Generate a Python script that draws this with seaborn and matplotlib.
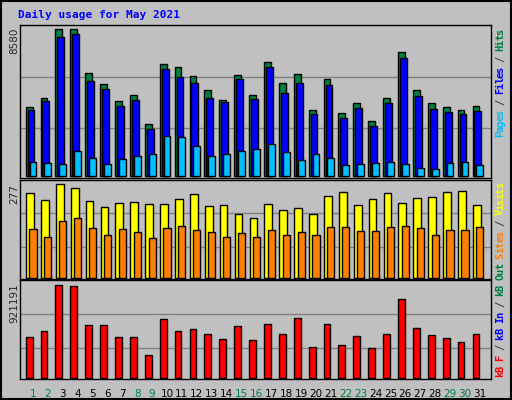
# %% load libraries
import numpy as np
import pandas as pd
import matplotlib
matplotlib.use("Agg")
import matplotlib.pyplot as plt
import seaborn as sns

# %% data
days = list(range(1, 32))
hits = [4060, 4580, 8580, 8580, 6030, 5390, 4410, 4760, 3070, 6550, 6380, 5860, 5050,
        4470, 5920, 4760, 6670, 5450, 5970, 3890, 5680, 3710, 4290, 3250, 4580, 7250,
        5050, 4290, 4060, 3890, 4120]
files = [3890, 4410, 8120, 8290, 5570, 5100, 4120, 4470, 2780, 6260, 5800, 5450, 4580,
         4350, 5680, 4520, 6380, 4870, 5450, 3650, 5340, 3420, 4000, 2960, 4290, 6900,
         4700, 3940, 3770, 3650, 3830]
pages = [870, 810, 700, 1510, 1100, 750, 990, 1220, 1280, 2380, 2320, 1800, 1220,
         1280, 1510, 1570, 1910, 1450, 930, 1280, 1100, 640, 700, 810, 870, 700,
         520, 460, 810, 870, 640]
visits = [250, 229, 277, 265, 226, 208, 220, 223, 217, 217, 232, 247, 211, 214, 187, 175,
          217, 199, 205, 187, 241, 253, 214, 232, 250, 220, 235, 238, 253, 256, 214]
sites = [145, 121, 169, 175, 148, 127, 145, 136, 118, 148, 154, 142, 136, 121, 133, 121,
         142, 127, 136, 127, 151, 151, 139, 139, 151, 154, 148, 127, 142, 142, 151]
kbytes = [406800, 467300, 921191, 911100, 527800, 527800, 406800, 406800, 225300, 578300,
          467300, 487500, 437100, 386600, 517800, 376500, 537900, 437100, 588400, 305900,
          537900, 326100, 416900, 295900, 437100, 780000, 497600, 427000, 396700, 356400,
          437100]
weekend = [1, 2, 8, 9, 15, 16, 22, 23, 29, 30]

BG = "#C0C0C0"
df = pd.DataFrame({"day": days, "hits": hits, "files": files, "pages": pages,
                   "visits": visits, "sites": sites, "kb": kbytes})

sns.set_theme(style="white")
plt.rcParams["font.family"] = ["DejaVu Sans Mono", "DejaVu Sans"]

fig = plt.figure(figsize=(5.12, 4.0), dpi=100, facecolor=BG)
W, H = 512, 400


def px_axes(left, top, right, bottom):
    return fig.add_axes([left / W, 1 - bottom / H, (right - left) / W, (bottom - top) / H])


def bars(ax, col, offset, color, width=0.46):
    d = pd.DataFrame({"x": df["day"] + offset, "y": df[col]})
    sns.barplot(data=d, x="x", y="y", native_scale=True, width=width, color=color,
                edgecolor="black", linewidth=1, saturation=1, ax=ax)


def style(ax, ymax, grids):
    ax.set_facecolor(BG)
    ax.set_xlim(0.13, 31.75)
    ax.set_ylim(-ymax * 0.01, ymax)
    for g in grids:
        ax.axhline(g, color="#808080", lw=1, zorder=0)
    ax.set_xticks([])
    ax.set_yticks([])
    ax.set_xlabel("")
    ax.set_ylabel("")
    for s in ax.spines.values():
        s.set_color("black")
        s.set_linewidth(1)


# top panel: hits / files / pages
ax1 = px_axes(20, 25, 491, 178)
bars(ax1, "hits", -0.26, "#008040")
bars(ax1, "files", -0.13, "#0000FF")
bars(ax1, "pages", 0.0, "#00C0FF")
style(ax1, 8812, [2842, 5800])

# middle panel: visits / sites
ax2 = px_axes(20, 180, 491, 279)
bars(ax2, "visits", -0.2, "#FFFF00", width=0.52)
bars(ax2, "sites", 0.0, "#FF8000", width=0.48)
style(ax2, 288, [90, 192])

# bottom panel: kbytes
ax3 = px_axes(20, 280, 491, 379)
bars(ax3, "kb", -0.26, "#FF0000")
style(ax3, 968000, [299200, 628700])

# day labels
for d in days:
    ax3.text(d, -0.1, str(d), transform=ax3.get_xaxis_transform(), ha="center", va="top",
             fontsize=7.5, family="DejaVu Sans",
             color="#008040" if d in weekend else "black")

# title and y max labels
fig.text(18 / W, 1 - 15 / H, "Daily usage for May 2021", color="#0000FF", fontsize=8,
         fontweight="bold", va="center", ha="left")
for val, y in [("8580", 28), ("277", 184), ("921191", 283)]:
    fig.text(14 / W, 1 - y / H, val, rotation=90, ha="center", va="top", fontsize=7.5,
             family="DejaVu Sans")


def side_label(y0, pieces):
    step = 5.4
    y = y0
    for txt, col in pieces:
        for ch in txt:
            fig.text(500 / W, 1 - (y - step / 2) / H, ch, rotation=90, color=col,
                     ha="center", va="center", fontsize=7.5, fontweight="bold")
            y -= step


side_label(137, [("Pages", "#00C0FF"), (" / ", "#404040"), ("Files", "#0000FF"),
                 (" / ", "#404040"), ("Hits", "#008040")])
side_label(377, [("kB F", "#FF0000"), (" / ", "#404040"), ("kB In", "#0000FF"),
                 (" / ", "#404040"), ("kB Out", "#008040"), (" ", "black"),
                 ("Sites", "#FF8000"), (" / ", "#404040"), ("Visits", "#FFFF00")])

# frame
fig.patches.append(plt.Rectangle((0.002, 0.002), 0.996, 0.996, transform=fig.transFigure,
                                 fill=False, edgecolor="black", lw=1.5))

fig.savefig("out.png", dpi=100, facecolor=BG)
